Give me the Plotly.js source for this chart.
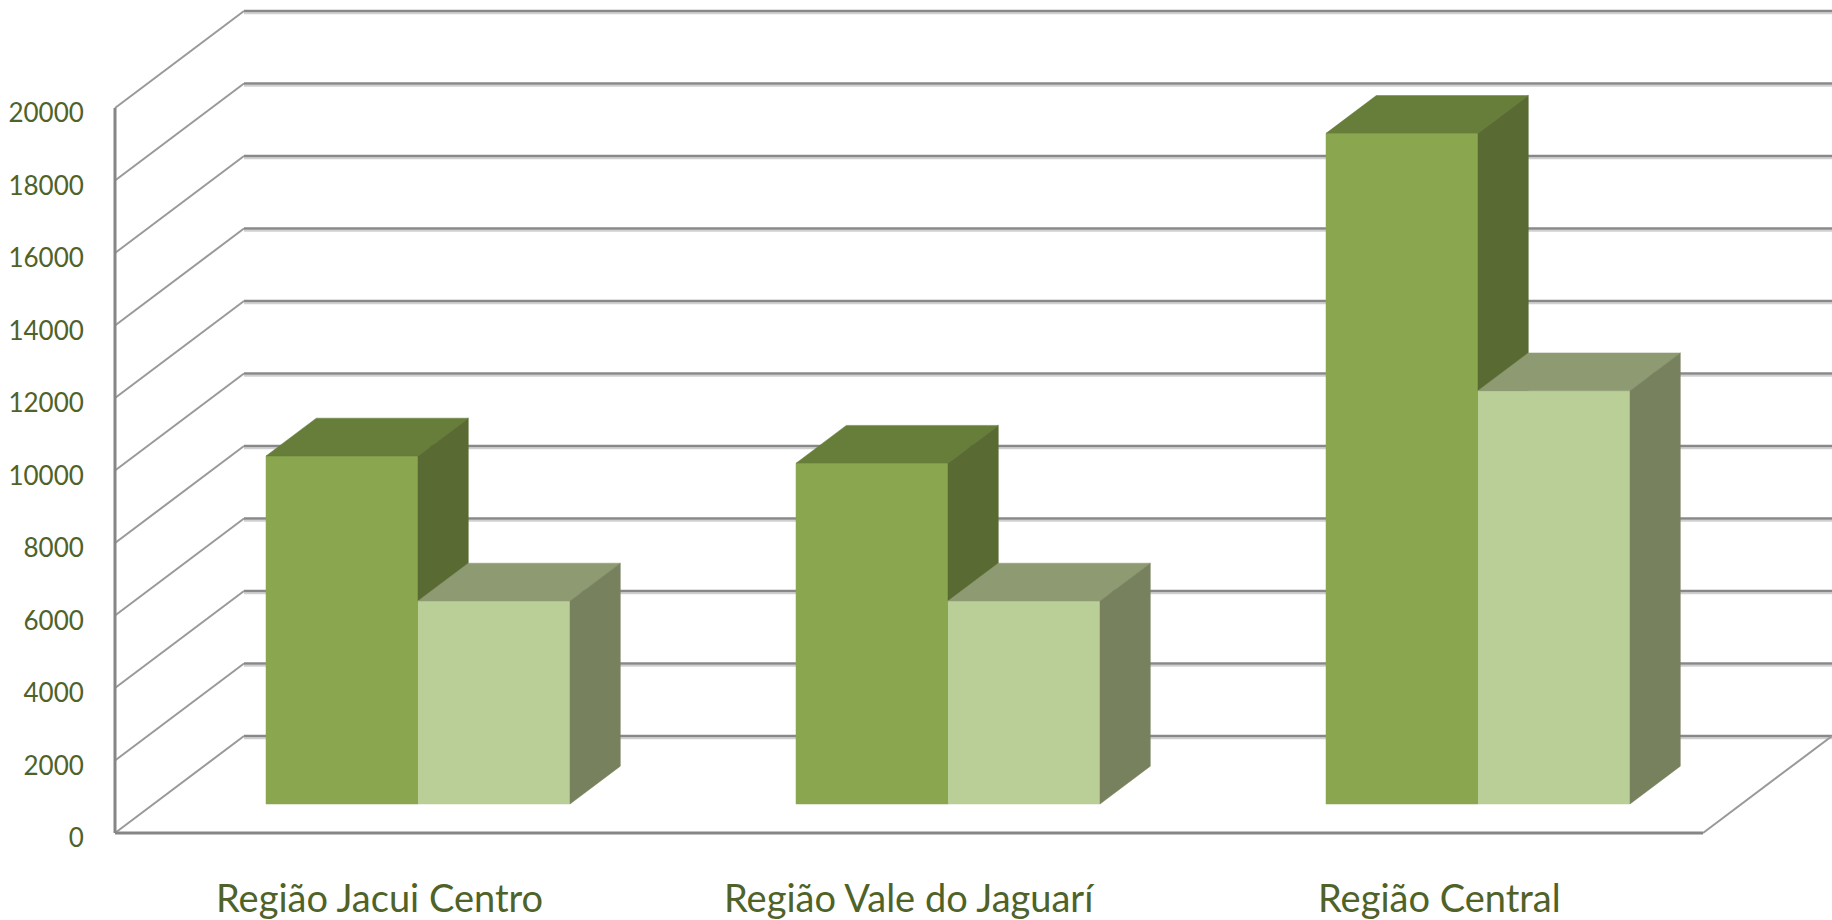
<!DOCTYPE html>
<html>
<head>
<meta charset="utf-8">
<script src="https://cdn.plot.ly/plotly-3.0.1.min.js"></script>
<style>html,body{margin:0;padding:0;background:#fff;}#chart{width:1832px;height:920px;}</style>
</head>
<body>
<div id="chart"></div>
<script>
// ---- data ----
const categories = ['Região Jacui Centro', 'Região Vale do Jaguarí', 'Região Central'];
const seriesA = [9600, 9400, 18500];   // dark green series
const seriesB = [5600, 5600, 11400];   // light green series
const yTicks = [0, 2000, 4000, 6000, 8000, 10000, 12000, 14000, 16000, 18000, 20000];
const yTickText = yTicks.map(String);

// ---- 3D projection geometry (in axis units) ----
const W = 1832, H = 920;
const pxPerCat = 530, originPx = 418;            // category 0 at this pixel
const pxPerVal = 0.03625, zeroPy = 833;          // front-plane value scale
const xRange = [-originPx / pxPerCat, (W - originPx) / pxPerCat];
const yRange = [-(H - zeroPy) / pxPerVal, zeroPy / pxPerVal];
const DX = 129 / pxPerCat;      // full depth shift in x
const DV = 97 / pxPerVal;       // full depth shift in y (value units)
const zFront = 0.299;           // bar front-plane depth
const zBar = 0.39;              // bar depth thickness
const barW = 152 / pxPerCat;
const xLeft = (115 - originPx) / pxPerCat;
const xRightFloor = (1703 - originPx) / pxPerCat;
const shadow = 2.2 / pxPerVal;

const traces = [];
function line(xs, ys, color, width) {
  traces.push({type: 'scatter', mode: 'lines', x: xs, y: ys, hoverinfo: 'skip',
    line: {color: color, width: width}, showlegend: false});
}

// gridlines: left wall diagonals + back wall horizontals
const gx = [], gy = [], sx = [], sy = [], dx = [], dy = [];
yTicks.forEach(v => {
  dx.push(xLeft, xLeft + DX, null); dy.push(v, v + DV, null);
  gx.push(xLeft + DX, xRange[1] + 0.1, null); gy.push(v + DV, v + DV, null);
  sx.push(xLeft + DX, xRange[1] + 0.1, null); sy.push(v + DV - shadow, v + DV - shadow, null);
});
line(sx, sy, '#d0d0d0', 2);
line(gx, gy, '#888888', 2.3);
line(dx, dy, '#999999', 2);
// floor right diagonal
line([xRightFloor, xRightFloor + DX], [0, DV], '#999999', 2);
// front axes
line([xLeft, xLeft], [0, yTicks[yTicks.length - 1]], '#868686', 3);
line([xLeft, xRightFloor], [0, 0], '#868686', 3);

// bars as projected boxes
const base = zFront * DV;
const ddx = zBar * DX, ddv = zBar * DV;
function faces(values, offset, cFront, cTop, cSide) {
  const f = {x: [], y: []}, t = {x: [], y: []}, s = {x: [], y: []};
  values.forEach((v, i) => {
    const x0 = i + offset, x1 = x0 + barW, top = base + v;
    f.x.push(x0, x1, x1, x0, x0, null); f.y.push(base, base, top, top, base, null);
    t.x.push(x0, x1, x1 + ddx, x0 + ddx, x0, null); t.y.push(top, top, top + ddv, top + ddv, top, null);
    s.x.push(x1, x1 + ddx, x1 + ddx, x1, x1, null); s.y.push(base, base + ddv, top + ddv, top, base, null);
  });
  [[f, cFront], [t, cTop], [s, cSide]].forEach(([p, c]) => {
    traces.push({type: 'scatter', mode: 'lines', x: p.x, y: p.y, fill: 'toself', fillcolor: c,
      line: {width: 0.5, color: c}, hoverinfo: 'skip', showlegend: false});
  });
}
faces(seriesA, -barW, '#8aa64f', '#677e3a', '#5a6a33');
faces(seriesB, 0, '#bacf98', '#8e9b72', '#78815e');

const annotations = categories.map((c, i) => ({
  x: i - zFront * DX, y: -(897 - zeroPy) / pxPerVal, xref: 'x', yref: 'y',
  text: c, showarrow: false, xanchor: 'center', yanchor: 'middle',
  font: {family: 'Lato, "Noto Sans", sans-serif', size: 38, color: '#4f6228'}
}));

const layout = {
  width: W, height: H, margin: {l: 0, r: 0, t: 0, b: 0},
  paper_bgcolor: '#ffffff', plot_bgcolor: '#ffffff', showlegend: false,
  xaxis: {range: xRange, visible: false, fixedrange: true},
  yaxis: {range: yRange, anchor: 'free', position: 115 / W, side: 'left',
    showgrid: false, zeroline: false, showline: false,
    tickvals: yTicks, ticktext: yTickText, ticks: 'outside', ticklen: 26,
    tickcolor: 'rgba(0,0,0,0)', ticklabelshift: 5,
    tickfont: {family: 'Lato, "Noto Sans", sans-serif', size: 26, color: '#4f6228'},
    fixedrange: true},
  annotations: annotations
};
Plotly.newPlot('chart', traces, layout, {staticPlot: true, displayModeBar: false});
</script>
</body>
</html>
